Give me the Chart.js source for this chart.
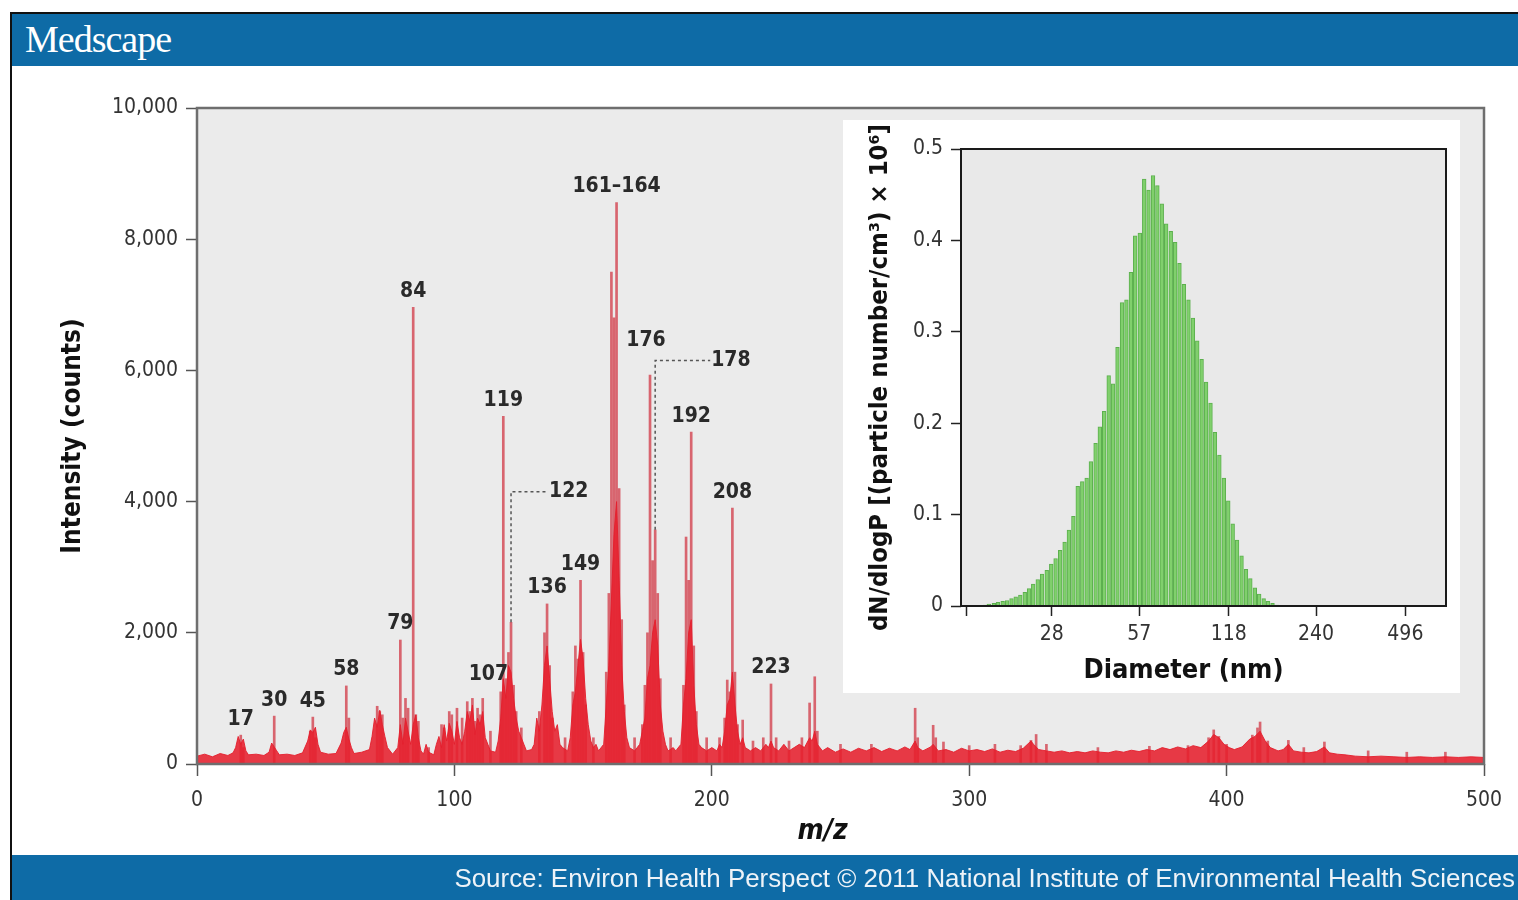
<!DOCTYPE html>
<html>
<head>
<meta charset="utf-8">
<script src="https://cdn.jsdelivr.net/npm/chart.js@4.4.1/dist/chart.umd.min.js"></script>
<style>
  html, body { margin: 0; padding: 0; background: #fff; }
  body { width: 1518px; height: 900px; position: relative; overflow: hidden; }
  #main { position: absolute; left: 0; top: 0; }
  #frame { position: absolute; left: 10px; top: 12px; width: 1520px; height: 900px; border-left: 2px solid #111; border-top: 2px solid #111; }
  #header { position: absolute; left: 12px; top: 14px; width: 1506px; height: 52px; background: #0e6ba6; }
  #header span { position: absolute; left: 13px; top: 3px; font-family: 'Liberation Serif', 'DejaVu Serif', serif; font-size: 38px; color: #fff; letter-spacing: -1px; }
  #footer { position: absolute; left: 12px; top: 855px; width: 1506px; height: 45px; background: #0e6ba6; }
  #footer span { position: absolute; right: 3px; top: 9px; font-family: 'Liberation Sans', Arial, sans-serif; font-size: 25.9px; color: #eef3f8; }
  #insetBox { position: absolute; left: 843px; top: 120px; width: 617px; height: 573px; background: #fff; }
  #inset { position: absolute; left: 0; top: 0; }
</style>
</head>
<body>
<canvas id="main" width="1518" height="900"></canvas>
<div id="frame"></div>
<div id="header"><span>Medscape</span></div>
<div id="footer"><span>Source: Environ Health Perspect © 2011 National Institute of Environmental Health Sciences</span></div>
<div id="insetBox"><canvas id="inset" width="617" height="573"></canvas></div>
<script>
// mass spectrum: individual peaks (m/z, counts)
const peakMz = [17, 18, 30, 44, 45, 46, 58, 59, 70, 71, 72, 79, 80, 81, 82, 84, 85, 86, 90, 95, 96, 98, 99, 101, 103, 105, 106, 107, 108, 109, 110, 111, 114,
  118, 119, 120, 121, 122, 123, 124, 126, 133, 135, 136, 137, 138, 143, 146, 147, 148, 149, 150, 151, 154,
  159, 160, 161, 162, 163, 164, 165, 166, 170, 173, 174, 175, 176, 177, 178, 179, 180, 184,
  189, 190, 191, 192, 193, 194, 198, 203, 205, 206, 207, 208, 209, 210, 212, 216, 220, 223, 225, 230, 235, 238, 240, 241,
  250, 262, 279, 280, 286, 287, 290, 300, 310, 320, 324, 326, 330, 350, 370, 385, 393, 395, 397, 400, 410, 412, 413, 416, 424, 430, 438, 455, 470, 485];
const peakCounts = [440, 250, 730, 500, 715, 400, 1190, 700, 880, 800, 750, 1890, 700, 1000, 850, 6960, 750, 650, 250, 600, 550, 800, 750, 850, 700, 950, 800, 1000, 650, 850, 750, 1000, 500,
  1100, 5300, 1300, 1700, 2160, 1200, 800, 550, 800, 2000, 2440, 1500, 700, 400, 1100, 1800, 1600, 2800, 1700, 900, 400,
  1400, 2600, 7500, 6800, 8560, 4200, 2200, 900, 400, 600, 1200, 2000, 5930, 3100, 3570, 2600, 1300, 400,
  1200, 3460, 2800, 5060, 1800, 800, 400, 400, 700, 1280, 1100, 3900, 1400, 600, 670, 350, 400, 1220, 400, 350, 400, 930, 1330, 500,
  300, 300, 850, 400, 590, 400, 335, 280, 300, 280, 360, 450, 300, 250, 270, 280, 400, 520, 420, 300, 440, 550, 640, 350, 360, 250, 335, 200, 180, 180];

// dense base of the spectrum (filled envelope)
const envMz = [0, 3, 6, 9, 12, 14, 15, 16, 17, 18, 19, 20, 23, 26, 28, 29, 30, 31, 32, 35, 38, 41, 43, 44, 45, 46, 47, 48, 51, 54, 56, 57, 58, 59, 60, 61,
  64, 67, 68, 69, 70, 71, 72, 73, 74, 76, 78, 79, 80, 81, 82, 83, 84, 85, 86, 87, 88, 89, 90, 92, 93, 94, 95, 96, 97, 98, 99, 100,
  101, 102, 103, 104, 105, 106, 107, 108, 109, 110, 111, 112, 113, 114, 116, 117, 118, 119, 120, 121, 122, 123, 124, 125, 126, 127, 128,
  130, 131, 132, 133, 134, 135, 136, 137, 138, 139, 140, 141, 142, 144, 145, 146, 147, 148, 149, 150, 151, 152, 153, 154, 155, 156,
  158, 159, 160, 161, 162, 163, 164, 165, 166, 167, 168, 170, 171, 172, 173, 174, 175, 176, 177, 178, 179, 180, 181, 182, 183, 185, 186,
  188, 189, 190, 191, 192, 193, 194, 195, 196, 198, 200, 202, 203, 204, 205, 206, 207, 208, 209, 210, 211, 212, 213, 215, 217, 219, 221, 222, 223, 224,
  226, 228, 230, 232, 234, 236, 238, 239, 240, 241, 243, 245, 248, 251, 254, 257, 260, 263, 266, 269, 272, 275, 277, 279, 280, 282, 285, 286, 288,
  291, 294, 297, 300, 303, 306, 309, 312, 315, 318, 321, 324, 325, 327, 330, 333, 336, 339, 342, 345, 348, 351, 354, 357, 360, 363, 366, 369,
  372, 375, 378, 381, 384, 387, 390, 393, 395, 397, 399, 401, 403, 406, 409, 411, 413, 415, 417, 420, 422, 424, 426, 429, 432, 435, 438, 440,
  443, 446, 450, 455, 460, 465, 470, 475, 480, 485, 490, 495, 500];
const envCounts = [120, 150, 110, 160, 130, 170, 250, 420, 300, 380, 200, 140, 150, 130, 180, 320, 260, 200, 140, 150, 130, 170, 350, 520, 480, 560, 300, 180, 150, 160, 320, 480, 560, 380, 250, 160,
  180, 220, 420, 700, 560, 820, 600, 420, 250, 150, 250, 600, 300, 700, 500, 300, 600, 750, 400, 200, 150, 300, 180, 140, 300, 420, 250, 600, 350, 620, 500, 300,
  650, 400, 300, 500, 800, 650, 900, 450, 700, 600, 800, 400, 300, 200, 180, 350, 700, 1300, 1000, 1500, 1400, 1000, 700, 500, 400, 300, 200,
  220, 300, 700, 500, 900, 1500, 1800, 1300, 800, 500, 600, 300, 250, 200, 400, 900, 1100, 1500, 1900, 1600, 1000, 600, 350, 250, 300, 200,
  300, 900, 1500, 2500, 3500, 4000, 2800, 1500, 800, 400, 250, 200, 250, 300, 500, 700, 1300, 1500, 2000, 2200, 1800, 900, 500, 300, 200, 250, 200,
  300, 900, 1300, 2000, 2200, 1200, 600, 300, 250, 200, 250, 200, 300, 250, 500, 900, 1000, 1400, 900, 500, 300, 400, 250, 200, 250, 200, 300, 250, 350, 250,
  200, 300, 200, 250, 300, 250, 400, 350, 500, 300, 200, 250, 180, 230, 180, 240, 200, 250, 190, 240, 200, 260, 220, 350, 250, 200, 260, 300, 200,
  220, 180, 240, 200, 220, 190, 230, 180, 210, 190, 240, 350, 300, 220, 200, 180, 200, 170, 190, 170, 200, 180, 170, 200, 180, 210, 190, 220,
  200, 250, 220, 260, 230, 280, 250, 350, 450, 400, 300, 250, 220, 260, 380, 420, 500, 350, 250, 200, 220, 300, 200, 180, 170, 190, 260, 170,
  150, 140, 120, 110, 120, 110, 100, 110, 100, 110, 100, 110, 100];

const xTicks = [0, 100, 200, 300, 400, 500];
const yTicks = [0, 2000, 4000, 6000, 8000, 10000];

// labelled peaks
const peakLabels = ['17', '30', '45', '58', '79', '84', '107', '119', '122', '136', '149', '161\u2013164', '176', '178', '192', '208', '223'];
const labelMz = [17, 30, 45, 58, 79, 84, 107, 119, 122, 136, 149, 163, 176, 178, 192, 208, 223];

// inset: particle size distribution
const diameters = [14.1, 14.6, 15.1, 15.7, 16.3, 16.8, 17.5, 18.1, 18.8, 19.5, 20.2, 20.9, 21.7, 22.5, 23.3, 24.1, 25.0, 25.9, 26.9, 27.9,
  28.9, 30.0, 31.1, 32.2, 33.4, 34.6, 35.9, 37.2, 38.5, 40.0, 41.4, 42.9, 44.5, 46.1, 47.8, 49.6, 51.4, 53.3, 55.2, 57.3,
  59.4, 61.5, 63.8, 66.1, 68.5, 71.0, 73.7, 76.4, 79.1, 82.0, 85.1, 88.2, 91.4, 94.7, 98.2, 101.8, 105.5, 109.4, 113.4, 117.6,
  121.9, 126.3, 131.0, 135.8, 140.7, 145.9, 151.2, 156.8, 162.5, 168.5, 174.7, 181.1];
const dNdlogP = [0, 0, 0, 0, 0.001, 0.002, 0.003, 0.004, 0.005, 0.006, 0.008, 0.010, 0.012, 0.015, 0.019, 0.024, 0.029, 0.035, 0.039, 0.046,
  0.052, 0.061, 0.070, 0.083, 0.098, 0.131, 0.136, 0.140, 0.158, 0.178, 0.196, 0.213, 0.252, 0.243, 0.283, 0.332, 0.335, 0.365, 0.405, 0.408,
  0.467, 0.455, 0.471, 0.460, 0.440, 0.418, 0.410, 0.398, 0.375, 0.352, 0.335, 0.315, 0.290, 0.270, 0.245, 0.222, 0.190, 0.165, 0.140, 0.115,
  0.090, 0.072, 0.055, 0.040, 0.030, 0.020, 0.013, 0.008, 0.005, 0.003, 0.001, 0];
const sizeTicks = [14, 28, 57, 118, 240, 496];
const insetYTicks = [0, 0.1, 0.2, 0.3, 0.4, 0.5];

const NARROW = "'Liberation Sans Narrow', 'DejaVu Sans Condensed', 'Liberation Sans', sans-serif";

// per-label nudges (pixels) and leader lines
const labelStyle = {
  '107': { dx: 16, dy: 8 },
  '176': { dx: -4, dy: 18 },
  '122': { leader: 4150, len: 37 },
  '178': { leader: 6150, len: 55 }
};

// gray plot background, frame, and an x-axis title that can sit off-centre
const plotFrame = {
  id: 'plotFrame',
  beforeDatasetsDraw(chart, args, opts) {
    const { ctx, chartArea: a } = chart;
    ctx.save();
    ctx.fillStyle = opts.bg;
    ctx.fillRect(a.left, a.top, a.right - a.left, a.bottom - a.top);
    ctx.restore();
  },
  afterDatasetsDraw(chart, args, opts) {
    const { ctx, chartArea: a } = chart;
    ctx.save();
    ctx.strokeStyle = opts.color;
    ctx.lineWidth = opts.width;
    ctx.strokeRect(a.left, a.top, a.right - a.left, a.bottom - a.top);
    if (opts.xTitle) {
      ctx.font = opts.xTitleFont;
      ctx.fillStyle = '#111';
      ctx.textAlign = 'center';
      ctx.textBaseline = 'middle';
      ctx.fillText(opts.xTitle, (a.left + a.right) / 2 + opts.xTitleDx, a.bottom + opts.xTitleDy);
    }
    ctx.restore();
  }
};

const peakLabelPlugin = {
  id: 'peakLabels',
  afterDatasetsDraw(chart) {
    const { ctx, scales: { x, y } } = chart;
    ctx.save();
    ctx.font = 'bold 21px ' + NARROW;
    ctx.fillStyle = '#2a2a2a';
    ctx.textBaseline = 'middle';
    peakLabels.forEach((txt, i) => {
      const mz = labelMz[i];
      const top = peakCounts[peakMz.indexOf(mz)];
      const px = x.getPixelForValue(mz);
      const py = y.getPixelForValue(top);
      const s = labelStyle[txt] || {};
      if (s.leader) {
        const ly = y.getPixelForValue(s.leader);
        ctx.strokeStyle = '#555';
        ctx.lineWidth = 1.5;
        ctx.setLineDash([3, 3]);
        ctx.beginPath();
        ctx.moveTo(px, py);
        ctx.lineTo(px, ly);
        ctx.lineTo(px + s.len, ly);
        ctx.stroke();
        ctx.setLineDash([]);
        ctx.textAlign = 'left';
        ctx.fillText(txt, px + s.len + 1, ly);
      } else {
        ctx.textAlign = 'center';
        ctx.fillText(txt, px + (s.dx || 0), py - 16 - (s.dy || 0));
      }
    });
    ctx.restore();
  }
};

new Chart(document.getElementById('main').getContext('2d'), {
  type: 'bar',
  data: {
    datasets: [
      {
        type: 'line',
        label: 'base',
        data: envMz.map((m, i) => ({ x: m, y: envCounts[i] })),
        borderColor: 'rgba(228,30,44,0.9)',
        backgroundColor: 'rgba(230,32,46,0.88)',
        borderWidth: 1,
        fill: 'origin',
        pointRadius: 0,
        tension: 0,
        order: 1
      },
      {
        label: 'peaks',
        data: peakMz.map((m, i) => ({ x: m, y: peakCounts[i] })),
        backgroundColor: 'rgba(208,48,62,0.72)',
        barThickness: 2,
        order: 2
      }
    ]
  },
  options: {
    responsive: false,
    animation: false,
    devicePixelRatio: 1,
    layout: { padding: { left: 58, top: 108, right: 34, bottom: 45 } },
    plugins: {
      legend: { display: false },
      tooltip: { enabled: false },
      plotFrame: { bg: '#ebebeb', color: '#6e6e6e', width: 2.5,
        xTitle: 'm/z', xTitleFont: "italic bold 28px " + NARROW, xTitleDx: -18, xTitleDy: 68 }
    },
    scales: {
      x: {
        type: 'linear',
        min: 0,
        max: 500,
        offset: false,
        afterFit: (s) => { s.height = 91; },
        afterBuildTicks: (s) => { s.ticks = xTicks.map(v => ({ value: v })); },
        border: { display: false },
        grid: { offset: false, drawOnChartArea: false, drawTicks: true, tickLength: 12, tickColor: '#555', tickWidth: 1.5 },
        ticks: { color: '#333', font: { family: NARROW, size: 21 }, padding: 12, maxRotation: 0 }
      },
      y: {
        min: 0,
        max: 10000,
        afterFit: (s) => { s.width = 139; },
        afterBuildTicks: (s) => { s.ticks = yTicks.map(v => ({ value: v })); },
        border: { display: false },
        grid: { drawOnChartArea: false, drawTicks: true, tickLength: 11, tickColor: '#555', tickWidth: 1.5 },
        ticks: { color: '#333', font: { family: NARROW, size: 21 }, padding: 8, callback: (v) => v.toLocaleString('en-US') },
        title: { display: true, text: 'Intensity (counts)', color: '#111', font: { family: NARROW, size: 26, weight: 'bold' }, padding: 0 }
      }
    }
  },
  plugins: [plotFrame, peakLabelPlugin]
});

new Chart(document.getElementById('inset').getContext('2d'), {
  type: 'bar',
  data: {
    datasets: [{
      label: 'size',
      data: diameters.map((d, i) => ({ x: d, y: dNdlogP[i] })),
      backgroundColor: 'rgb(128,208,108)',
      borderColor: 'rgb(92,176,78)',
      borderWidth: 1,
      barPercentage: 1,
      categoryPercentage: 1
    }]
  },
  options: {
    responsive: false,
    animation: false,
    devicePixelRatio: 1,
    layout: { padding: { left: 22, top: 29, right: 14, bottom: 0 } },
    plugins: {
      legend: { display: false },
      tooltip: { enabled: false },
      plotFrame: { bg: '#e9e9e9', color: '#1a1a1a', width: 2,
        xTitle: 'Diameter (nm)', xTitleFont: "bold 27px " + NARROW, xTitleDx: -20, xTitleDy: 65 }
    },
    scales: {
      x: {
        type: 'logarithmic',
        min: 13.4,
        max: 690,
        offset: false,
        afterFit: (s) => { s.height = 87; },
        afterBuildTicks: (s) => { s.ticks = sizeTicks.map(v => ({ value: v })); },
        border: { display: false },
        grid: { offset: false, drawOnChartArea: false, drawTicks: true, tickLength: 10, tickColor: '#222', tickWidth: 1.5 },
        ticks: { color: '#333', font: { family: NARROW, size: 21 }, padding: 6, maxRotation: 0, autoSkip: false,
          callback: (v) => (v === sizeTicks[0] ? '' : String(v)) }
      },
      y: {
        min: 0,
        max: 0.5,
        afterFit: (s) => { s.width = 96; },
        afterBuildTicks: (s) => { s.ticks = insetYTicks.map(v => ({ value: v })); },
        border: { display: false },
        grid: { drawOnChartArea: false, drawTicks: true, tickLength: 10, tickColor: '#222', tickWidth: 1.5 },
        ticks: { color: '#333', font: { family: NARROW, size: 21 }, padding: 8, callback: (v) => String(v) },
        title: { display: true, text: 'dN/dlogP [(particle number/cm\u00B3) \u00D7 10\u2076]', color: '#111', font: { family: NARROW, size: 25.5, weight: 'bold' }, padding: 0 }
      }
    }
  },
  plugins: [plotFrame]
});
</script>
</body>
</html>
